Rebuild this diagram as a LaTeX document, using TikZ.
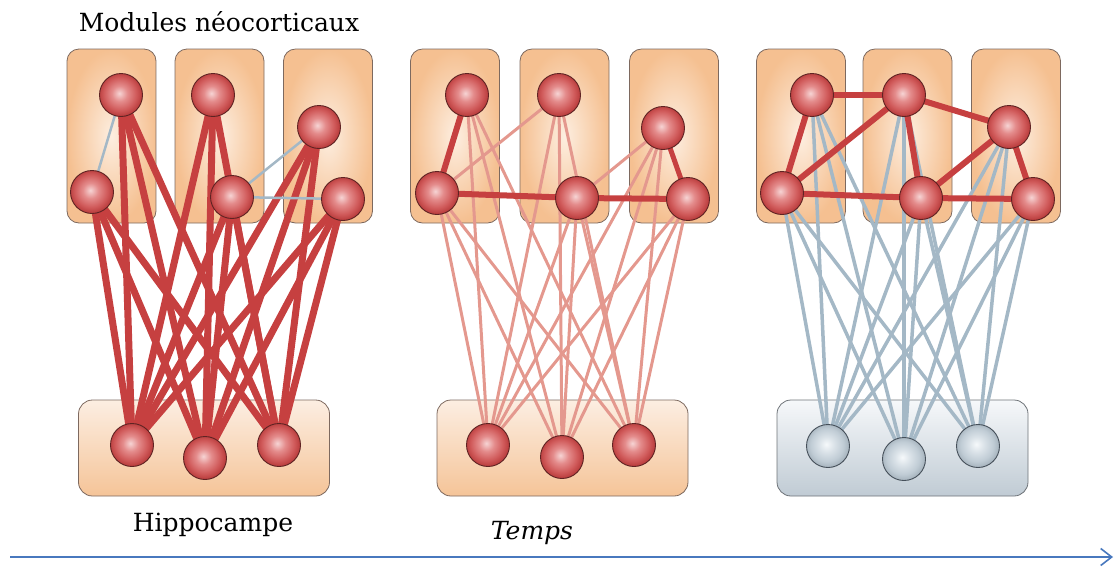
\documentclass[tikz,border=0pt]{standalone}
\usepackage{fontspec}
\usetikzlibrary{arrows.meta}
\newfontfamily\labfont{DejaVu Serif}
\definecolor{boxor}{RGB}{245,192,145}
\definecolor{boxin}{RGB}{253,238,224}
\definecolor{boxedge}{RGB}{125,105,95}
\definecolor{hbtop}{RGB}{252,238,226}
\definecolor{hbbot}{RGB}{245,196,152}
\definecolor{gbtop}{RGB}{246,248,250}
\definecolor{gbbot}{RGB}{192,203,212}
\definecolor{gbedge}{RGB}{110,115,120}
\definecolor{nredin}{RGB}{246,212,212}
\definecolor{nredmid}{RGB}{228,140,140}
\definecolor{nred}{RGB}{208,90,90}
\definecolor{nreddark}{RGB}{186,62,62}
\definecolor{nedge}{RGB}{95,35,35}
\definecolor{ngreyin}{RGB}{246,249,251}
\definecolor{ngreymid}{RGB}{218,226,232}
\definecolor{ngrey}{RGB}{192,204,213}
\definecolor{ngreydark}{RGB}{168,181,191}
\definecolor{nedgeg}{RGB}{70,80,90}
\definecolor{lred}{RGB}{198,64,64}
\definecolor{lpink}{RGB}{228,152,142}
\definecolor{lgrey}{RGB}{164,184,198}
\definecolor{arrowblue}{RGB}{72,120,190}
\pgfdeclareradialshading{redball}{\pgfpoint{-2bp}{2bp}}{%
  color(0bp)=(nredin); color(9bp)=(nredmid); color(19bp)=(nred);
  color(25bp)=(nreddark); color(50bp)=(nreddark)}
\pgfdeclareradialshading{greyball}{\pgfpoint{-2bp}{2bp}}{%
  color(0bp)=(ngreyin); color(9bp)=(ngreymid); color(19bp)=(ngrey);
  color(25bp)=(ngreydark); color(50bp)=(ngreydark)}
\pgfdeclarelayer{bg}
\pgfsetlayers{bg,main}
\tikzset{
  module/.style={draw=boxedge, line width=0.8pt, rounded corners=12pt,
    inner color=boxin, outer color=boxor, minimum width=89pt, minimum height=174pt, inner sep=0pt},
  hippo/.style={draw=boxedge, line width=0.8pt, rounded corners=14pt,
    top color=hbtop, bottom color=hbbot, minimum width=251pt, minimum height=96pt, inner sep=0pt},
  hippog/.style={hippo, draw=gbedge, top color=gbtop, bottom color=gbbot},
  rn/.style={circle, minimum size=43pt, inner sep=0pt, draw=nedge, line width=0.9pt,
    shading=redball},
  gn/.style={circle, minimum size=43pt, inner sep=0pt, draw=nedgeg, line width=0.9pt,
    shading=greyball},
  strong/.style={draw=lred, line width=7pt},
  strongc/.style={draw=lred, line width=6pt},
  weakpink/.style={draw=lpink, line width=3pt},
  weakgrey/.style={draw=lgrey, line width=3.5pt},
  faint/.style={draw=lgrey, line width=2.5pt},
  lab/.style={font=\labfont\fontsize{25}{30}\selectfont, inner sep=0pt}
}
\begin{document}
\begin{tikzpicture}[x=1pt,y=-1pt]
\useasboundingbox (0,0) rectangle (1115,566);
\begin{pgfonlayer}{bg}
  % panel 1 boxes
  \node[module] (b11) at (111.5,136) {};
  \node[module] (b12) at (219.5,136) {};
  \node[module] (b13) at (328,136) {};
  \node[hippo] (hb1) at (204,448) {};
  % panel 2 boxes
  \node[module] (b21) at (455,136) {};
  \node[module] (b22) at (564.5,136) {};
  \node[module] (b23) at (674,136) {};
  \node[hippo] (hb2) at (562.5,448) {};
  % panel 3 boxes
  \node[module] (b31) at (801,136) {};
  \node[module] (b32) at (907.5,136) {};
  \node[module] (b33) at (1016,136) {};
  \node[hippog] (hb3) at (902.5,448) {};
\end{pgfonlayer}
% panel 1 neurons
\node[rn] (n1) at (121,95) {};
\node[rn] (n2) at (92,192) {};
\node[rn] (n3) at (213,95) {};
\node[rn] (n4) at (232,197) {};
\node[rn] (n5) at (319,127) {};
\node[rn] (n6) at (343,199) {};
\node[rn] (h1) at (132,445) {};
\node[rn] (h2) at (205,458) {};
\node[rn] (h3) at (279,445) {};
% panel 2 neurons
\node[rn] (m1) at (467,95) {};
\node[rn] (m2) at (437,193) {};
\node[rn] (m3) at (559,95) {};
\node[rn] (m4) at (577,198) {};
\node[rn] (m5) at (663,128) {};
\node[rn] (m6) at (688,199) {};
\node[rn] (k1) at (488,445) {};
\node[rn] (k2) at (562,457) {};
\node[rn] (k3) at (634,445) {};
% panel 3 neurons
\node[rn] (p1) at (812,95) {};
\node[rn] (p2) at (782,193) {};
\node[rn] (p3) at (904,95) {};
\node[rn] (p4) at (921,198) {};
\node[rn] (p5) at (1009,127) {};
\node[rn] (p6) at (1033,199) {};
\node[gn] (q1) at (828,446) {};
\node[gn] (q2) at (904,459) {};
\node[gn] (q3) at (978,446) {};
\begin{pgfonlayer}{bg}
  \foreach \i in {1,...,6}{
    \foreach \j in {1,2,3}{
      \draw[strong] (n\i.center) -- (h\j.center);
      \draw[weakpink] (m\i.center) -- (k\j.center);
      \draw[weakgrey] (p\i.center) -- (q\j.center);
    }
  }
  % panel 1 cortical links
  \draw[faint] (n1.center) -- (n2.center);
  \draw[faint] (n4.center) -- (n5.center);
  \draw[faint] (n4.center) -- (n6.center);
  % panel 2 cortical links
  \draw[weakpink] (m2.center) -- (m3.center);
  \draw[weakpink] (m4.center) -- (m5.center);
  \draw[strongc] (m1.center) -- (m2.center);
  \draw[strongc] (m2.center) -- (m4.center);
  \draw[strongc] (m4.center) -- (m6.center);
  \draw[draw=lred, line width=5pt] (m5.center) -- (m6.center);
  % panel 3 cortical links
  \draw[strongc] (p1.center) -- (p3.center);
  \draw[strongc] (p1.center) -- (p2.center);
  \draw[strongc] (p2.center) -- (p3.center);
  \draw[strongc] (p3.center) -- (p5.center);
  \draw[strongc] (p3.center) -- (p4.center);
  \draw[strongc] (p2.center) -- (p4.center);
  \draw[strongc] (p4.center) -- (p5.center);
  \draw[strongc] (p4.center) -- (p6.center);
  \draw[strongc] (p5.center) -- (p6.center);
\end{pgfonlayer}
% labels
\node[lab] (t1) at (219,22) {Modules néocorticaux};
\node[lab] (t2) at (213,525) {Hippocampe};
\node[lab] (t3) at (532,533) {\itshape Temps};
% time arrow
\coordinate (a0) at (10,557);
\coordinate (a1) at (1113,557);
\draw[arrowblue, line width=1.6pt, -{Straight Barb[length=11pt,width=17pt]}] (a0) -- (a1);
\end{tikzpicture}
\end{document}
